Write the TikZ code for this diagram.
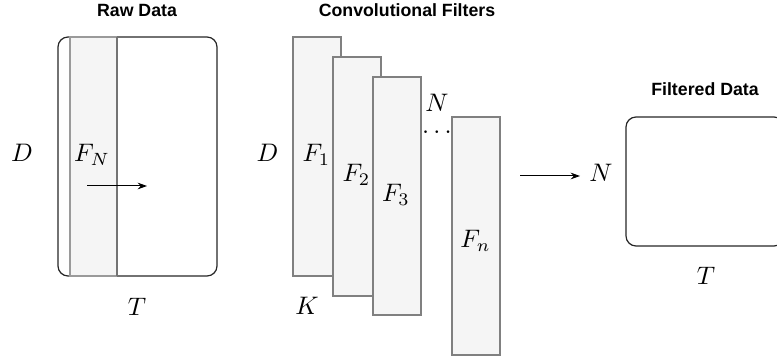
\documentclass[tikz,border=0pt]{standalone}
\usepackage{fontspec}
\newfontfamily\headfont{Liberation Sans}
\usetikzlibrary{arrows.meta}
\definecolor{panelfill}{HTML}{F5F5F5}
\definecolor{paneledge}{HTML}{808080}
\definecolor{stripeedge}{HTML}{9A9A9A}
\newcommand{\bigsym}[1]{\scalebox{1.9}{$#1$}}
\tikzset{
  x=0.75pt, y=-0.75pt,
  heading/.style={font=\headfont\bfseries\fontsize{13.3}{15}\selectfont, inner sep=0pt, anchor=base},
  sym/.style={inner sep=0pt, anchor=base},
  filterbox/.style={draw=paneledge, fill=panelfill, line width=0.9pt},
  databox/.style={draw=black!85, line width=0.9pt, rounded corners=7.5pt},
  flow/.style={-{Stealth[length=7pt,width=5pt]}, line width=0.75pt, black}
}
\begin{document}
\begin{tikzpicture}
\useasboundingbox (0,0) rectangle (777,359);
\clip (0,0) rectangle (777,359);

% ---- raw data matrix ----
\node[heading] (rawtitle) at (137,16.7) {Raw Data};
\draw[databox] (58,37) rectangle (217,276);
\fill[panelfill] (70,37) rectangle (117,276);
\draw[stripeedge, line width=0.9pt] (117,37) -- (70,37) -- (70,276) -- (117,276);
\draw[black!55, line width=0.9pt] (117,37) -- (117,276);
\node[sym] (rawD) at (22,161.5) {\bigsym{D}};
\node[sym] (rawF) at (92,162) {\bigsym{F_N}};
\node[sym] (rawT) at (137,315.5) {\bigsym{T}};
\coordinate (slideA) at (87,186);
\coordinate (slideB) at (147,186);
\draw[flow] (slideA) -- (slideB);

% ---- stack of filters ----
\node[heading] (convtitle) at (407,17) {Convolutional Filters};
\draw[filterbox] (293,37) rectangle (341,276);
\draw[filterbox] (333,57) rectangle (381,296);
\draw[filterbox] (373,77) rectangle (421,315);
\draw[filterbox] (452,117) rectangle (500,355);
\node[sym] (convD) at (267.5,161.7) {\bigsym{D}};
\node[sym] (f1) at (316.5,162) {\bigsym{F_1}};
\node[sym] (f2) at (356.5,181.7) {\bigsym{F_2}};
\node[sym] (f3) at (396,201.7) {\bigsym{F_3}};
\node[sym] (fn) at (475.5,248) {\bigsym{F_n}};
\node[sym] (convN) at (437,111.7) {\bigsym{N}};
\node[sym] (gap) at (437,139) {\smash{\bigsym{\cdots}}};
\node[sym] (convK) at (307,315) {\bigsym{K}};

% ---- filtered output ----
\coordinate (outA) at (520,176);
\coordinate (outB) at (580,176);
\node[sym] (outN) at (601,181.7) {\bigsym{N}};
\draw[flow] (outA) -- (outB);
\node[heading] (outtitle) at (705,96) {Filtered Data};
\draw[databox] (626,117) rectangle (784,246);
\node[sym] (outT) at (706,285) {\bigsym{T}};
\end{tikzpicture}
\end{document}
